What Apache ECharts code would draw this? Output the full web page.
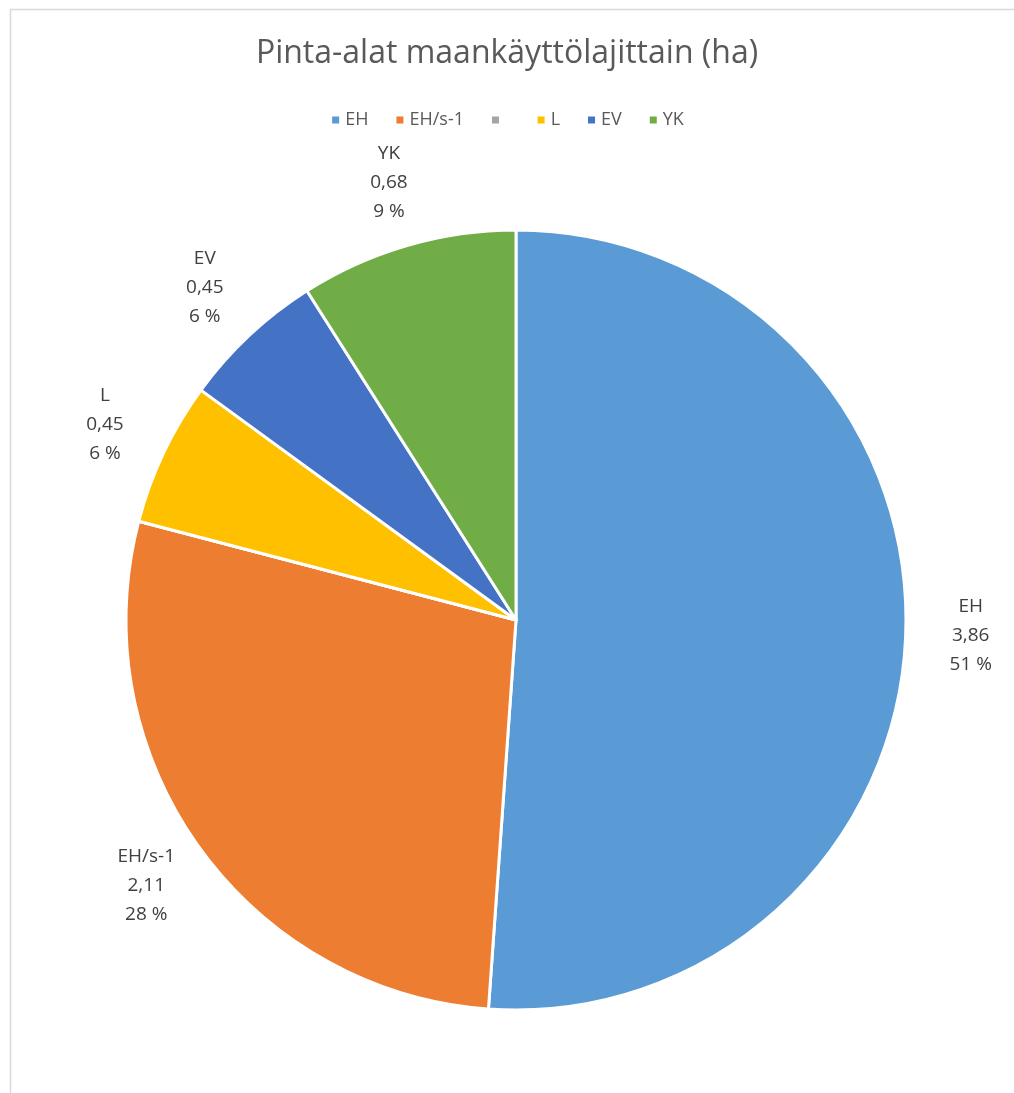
<!DOCTYPE html>
<html><head><meta charset="utf-8">
<script src="https://cdn.jsdelivr.net/npm/echarts@6/dist/echarts.min.js"></script>
<style>html,body{margin:0;padding:0;background:#fff}#c{width:1014px;height:1093px}</style>
</head><body><div id="c"></div>
<script>
const titleText = 'Pinta-alat maankäyttölajittain (ha)';
const categories = ['EH', 'EH/s-1', ' ', 'L', 'EV', 'YK'];
const values = [3.86, 2.11, 0, 0.45, 0.45, 0.68];
const colors = ['#5B9BD5', '#ED7D31', '#A5A5A5', '#FFC000', '#4472C4', '#70AD47'];

const total = values.reduce((a, b) => a + b, 0);
const CX = 516, CY = 620, R = 390, LR = 455;
const starts = [];
let acc = 0;
values.forEach(v => { starts.push(acc); acc += v; });

const chart = echarts.init(document.getElementById('c'));
chart.setOption({
  animation: false,
  graphic: [{
    type: 'rect', shape: { x: 10.5, y: 9.5, width: 1200, height: 1200 },
    style: { fill: 'none', stroke: '#d9d9d9', lineWidth: 1.5 }, silent: true, z: -1
  }],
  title: {
    text: titleText, left: 'center', top: 33,
    textStyle: { fontFamily: 'Open Sans', fontWeight: 'normal', fontSize: 32, color: '#595959' }
  },
  legend: {
    top: 106, left: 'center', itemWidth: 9, itemHeight: 9, itemGap: 26, icon: 'rect',
    textStyle: { fontFamily: 'Open Sans', fontSize: 18, color: '#595959' },
    data: categories
  },
  series: [{
    type: 'pie',
    center: [CX, CY], radius: [0, R],
    startAngle: 90, clockwise: true,
    avoidLabelOverlap: false,
    itemStyle: { borderColor: '#fff', borderWidth: 3 },
    label: {
      show: true, position: 'outside',
      fontFamily: 'Open Sans', fontSize: 19, color: '#404040', lineHeight: 29, align: 'center',
      formatter: p => p.name + '\n' + values[p.dataIndex].toFixed(2).replace('.', ',') + '\n' + Math.round(values[p.dataIndex] / total * 100) + ' %'
    },
    labelLine: { show: false },
    labelLayout: p => {
      const i = p.dataIndex;
      const mid = (starts[i] + values[i] / 2) / total * 2 * Math.PI;
      return { x: CX + LR * Math.sin(mid), y: CY - LR * Math.cos(mid), align: 'center', verticalAlign: 'middle' };
    },
    data: categories.map((n, i) => ({
      name: n, value: values[i], itemStyle: { color: colors[i] },
      label: { show: values[i] > 0 }
    }))
  }]
});
</script></body></html>
